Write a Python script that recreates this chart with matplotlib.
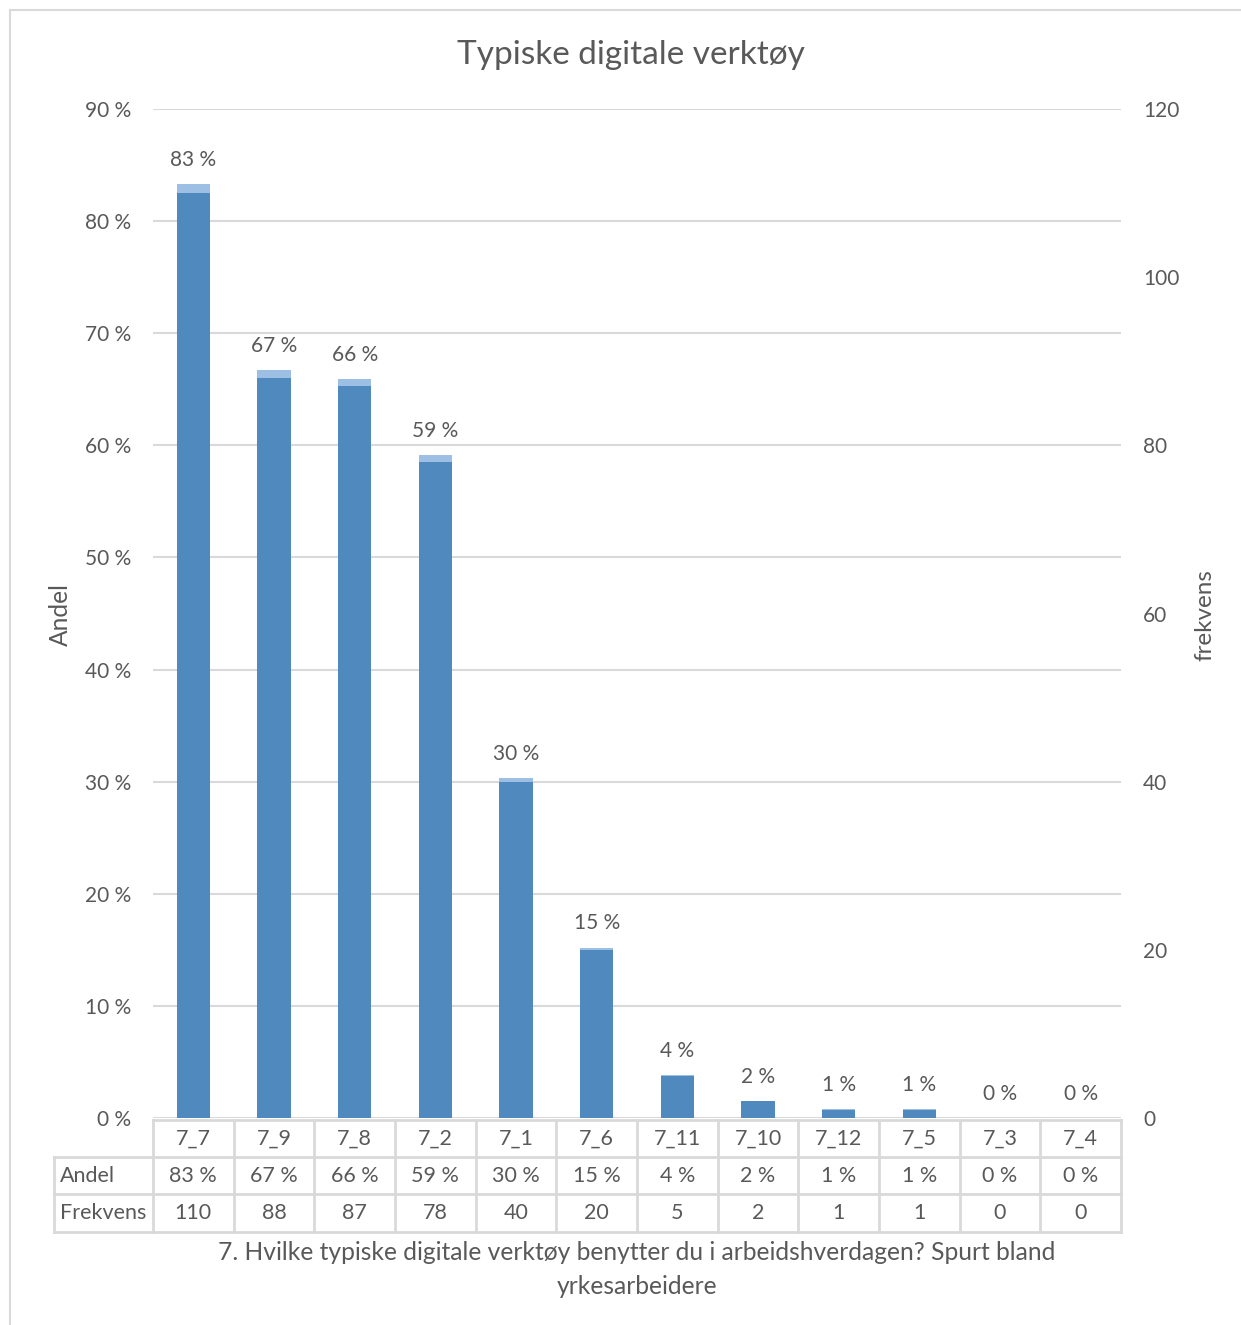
import matplotlib
matplotlib.use('Agg')
import matplotlib.pyplot as plt
from matplotlib.transforms import blended_transform_factory
from matplotlib.patches import Rectangle

plt.rcParams['font.family'] = ['Lato', 'DejaVu Sans']

categories = ['7_7', '7_9', '7_8', '7_2', '7_1', '7_6', '7_11', '7_10', '7_12', '7_5', '7_3', '7_4']
andel = [0.833, 0.667, 0.659, 0.591, 0.303, 0.152, 0.038, 0.015, 0.008, 0.008, 0.0, 0.0]
frekvens = [110, 88, 87, 78, 40, 20, 5, 2, 1, 1, 0, 0]
left_ticks = [0.0, 0.1, 0.2, 0.3, 0.4, 0.5, 0.6, 0.7, 0.8, 0.9]
right_ticks = [0, 20, 40, 60, 80, 100, 120]

TXT = '#595959'
GRID = '#d9d9d9'
LIGHT = '#9DBFE3'
DARK = '#4F89BD'

W, H = 1241, 1325
fig = plt.figure(figsize=(W / 100, H / 100), dpi=100)

# chart frame
fig.patches.append(Rectangle((10 / W, -0.01), 1.0, 1 - 10 / H + 0.01, transform=fig.transFigure,
                             fill=False, edgecolor=GRID, lw=1.5))

ax_l, ax_r, ax_t, ax_b = 153, 1121, 109, 1118
ax = fig.add_axes([ax_l / W, 1 - ax_b / H, (ax_r - ax_l) / W, (ax_b - ax_t) / H])
ax2 = ax.twinx()

x = list(range(len(categories)))
bw = 0.41
ax.bar(x, andel, width=bw, color=LIGHT, zorder=2)
ax2.bar(x, frekvens, width=bw, color=DARK, zorder=2)

ax.set_xlim(-0.5, len(categories) - 0.5)
ax.set_ylim(0, 0.9)
ax2.set_ylim(0, 120)
ax.set_yticks(left_ticks)
ax.set_yticklabels([f"{int(round(t * 100))} %" for t in left_ticks])
ax2.set_yticks(right_ticks)
ax2.set_yticklabels([str(t) for t in right_ticks])
ax.set_xticks([])
ax.grid(axis='y', color=GRID, lw=1.5, zorder=0)
ax.set_axisbelow(True)
for a in (ax, ax2):
    for s in a.spines.values():
        s.set_visible(False)
ax.tick_params(axis='y', length=0, pad=16, labelsize=15, labelcolor=TXT)
ax2.tick_params(axis='y', length=0, pad=16, labelsize=15, labelcolor=TXT)

# data labels
for i, v in enumerate(andel):
    ax.annotate(f"{int(v * 100 + 0.5)} %", xy=(i, v), xytext=(0, 17.5), textcoords='offset points',
                ha='center', va='center', fontsize=15, color=TXT)

# data table
ah = ax_b - ax_t
rows = [-2 / ah, -39 / ah, -76 / ah, -114 / ah]
hx = (54 - ax_l) / (ax_r - ax_l)
n = len(categories)
kw = dict(color=GRID, lw=2, transform=ax.transAxes, clip_on=False)
ax.plot([0, 1], [rows[0], rows[0]], **kw)
for r in rows[1:]:
    ax.plot([hx, 1], [r, r], **kw)
for k in range(n + 1):
    ax.plot([k / n, k / n], [rows[0], rows[3]], **kw)
ax.plot([hx, hx], [rows[1], rows[3]], **kw)

bt = blended_transform_factory(ax.transData, ax.transAxes)
mids = [(rows[j] + rows[j + 1]) / 2 for j in range(3)]
TS = 15.5
for i, c in enumerate(categories):
    ax.text(i, mids[0], c, transform=bt, ha='center', va='center', fontsize=TS, color=TXT)
    ax.text(i, mids[1], f"{int(andel[i] * 100 + 0.5)} %", transform=bt, ha='center', va='center',
            fontsize=TS, color=TXT)
    ax.text(i, mids[2], str(frekvens[i]), transform=bt, ha='center', va='center', fontsize=TS, color=TXT)
ax.text(hx + 0.006, mids[1], 'Andel', transform=ax.transAxes, ha='left', va='center', fontsize=TS, color=TXT)
ax.text(hx + 0.006, mids[2], 'Frekvens', transform=ax.transAxes, ha='left', va='center', fontsize=TS, color=TXT)

# titles
fig.text(631 / W, 1 - 55 / H, 'Typiske digitale verktøy', ha='center', va='center', fontsize=24, color=TXT)
fig.text(637 / W, 1 - 1253 / H, '7. Hvilke typiske digitale verktøy benytter du i arbeidshverdagen? Spurt bland',
         ha='center', va='center', fontsize=17.7, color=TXT)
fig.text(637 / W, 1 - 1287 / H, 'yrkesarbeidere', ha='center', va='center', fontsize=17.7, color=TXT)
fig.text(60 / W, 1 - 615 / H, 'Andel', ha='center', va='center', rotation=90, fontsize=17.7, color=TXT)
fig.text(1205 / W, 1 - 615 / H, 'frekvens', ha='center', va='center', rotation=90, fontsize=17.5, color=TXT)

fig.savefig('out.png', dpi=100, facecolor='white')
